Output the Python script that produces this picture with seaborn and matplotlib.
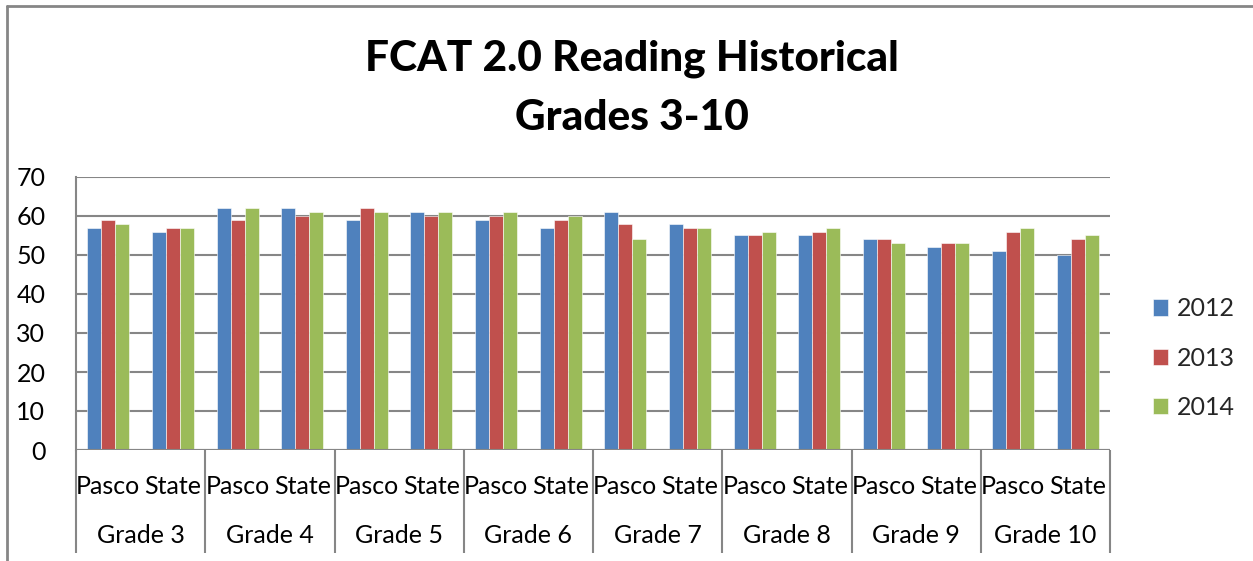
import matplotlib
matplotlib.use("Agg")
import matplotlib.pyplot as plt
from matplotlib.lines import Line2D
import seaborn as sns
import pandas as pd

grades = ["Grade 3", "Grade 4", "Grade 5", "Grade 6", "Grade 7", "Grade 8", "Grade 9", "Grade 10"]
groups = ["Pasco", "State"]
years = ["2012", "2013", "2014"]

# values per (grade, group) in order Pasco, State for each grade
y2012 = [57, 56, 62, 62, 59, 61, 59, 57, 61, 58, 55, 55, 54, 52, 51, 50]
y2013 = [59, 57, 59, 60, 62, 60, 60, 59, 58, 57, 55, 56, 54, 53, 56, 54]
y2014 = [58, 57, 62, 61, 61, 61, 61, 60, 54, 57, 56, 57, 53, 53, 57, 55]

colors = ["#4F81BD", "#C0504D", "#9BBB59"]
gray = "#868686"

slots = [f"{g}|{p}" for g in grades for p in groups]
rows = []
for yr, vals in zip(years, [y2012, y2013, y2014]):
    for s, v in zip(slots, vals):
        rows.append({"slot": s, "year": yr, "value": v})
df = pd.DataFrame(rows)

sns.set_theme(style="white")
plt.rcParams["font.family"] = ["Lato", "DejaVu Sans"]

fig = plt.figure(figsize=(12.53, 5.61), dpi=100)
ax = fig.add_axes([76 / 1253, 1 - 450 / 561, (1110 - 76) / 1253, (450 - 177) / 561])

sns.barplot(data=df, x="slot", y="value", hue="year", order=slots, hue_order=years,
            palette=colors, width=0.65, saturation=1, ax=ax, legend=True,
            edgecolor="white", linewidth=0.4)

ax.set_ylim(0, 70)
ax.set_yticks(range(0, 71, 10))
ax.set_xlim(-0.5, len(slots) - 0.5)
ax.yaxis.grid(True, color=gray, linewidth=1.5)
ax.set_axisbelow(True)
for side in ["top", "right", "bottom"]:
    ax.spines[side].set_visible(False)
ax.spines["left"].set_color(gray)
ax.spines["left"].set_linewidth(1.5)
ax.axhline(0, color=gray, linewidth=1.5, zorder=3)

ax.set_xlabel("")
ax.set_ylabel("")
ax.set_xticks(range(len(slots)))
ax.set_xticklabels([s.split("|")[1] for s in slots], fontsize=18, color="black")
ax.tick_params(axis="x", which="major", bottom=True, length=0, pad=18)
ax.tick_params(axis="y", length=0, pad=22, labelsize=18, labelcolor="black")

# group separators as minor ticks
bounds = [-0.5 + 2 * i for i in range(len(grades) + 1)]
ax.set_xticks(bounds, minor=True)
ax.tick_params(axis="x", which="minor", bottom=True, length=74, width=1.5, color=gray,
               direction="out")

for i, g in enumerate(grades):
    ax.text(2 * i + 0.5, -0.315, g, transform=ax.get_xaxis_transform(),
            ha="center", va="center", fontsize=18, color="black")

# legend
h, l = ax.get_legend_handles_labels()
ax.legend_.remove()
fig.legend(h, l, loc="center left", bbox_to_anchor=(1130 / 1253, 1 - 358 / 561),
           frameon=False, fontsize=18, handlelength=0.62, handleheight=0.62,
           handletextpad=0.35, labelspacing=1.05)

fig.text(632 / 1253, 1 - 59 / 561, "FCAT 2.0 Reading Historical",
         ha="center", va="center", fontsize=30.5, fontweight="black", color="black")
fig.text(632 / 1253, 1 - 118 / 561, "Grades 3-10",
         ha="center", va="center", fontsize=30.5, fontweight="black", color="black")

# outer chart border (top and left)
fig.add_artist(Line2D([7 / 1253, 7 / 1253], [0, 1 - 6 / 561], color=gray, linewidth=2))
fig.add_artist(Line2D([7 / 1253, 1], [1 - 6 / 561, 1 - 6 / 561], color=gray, linewidth=2))

fig.savefig("out.png", dpi=100)
